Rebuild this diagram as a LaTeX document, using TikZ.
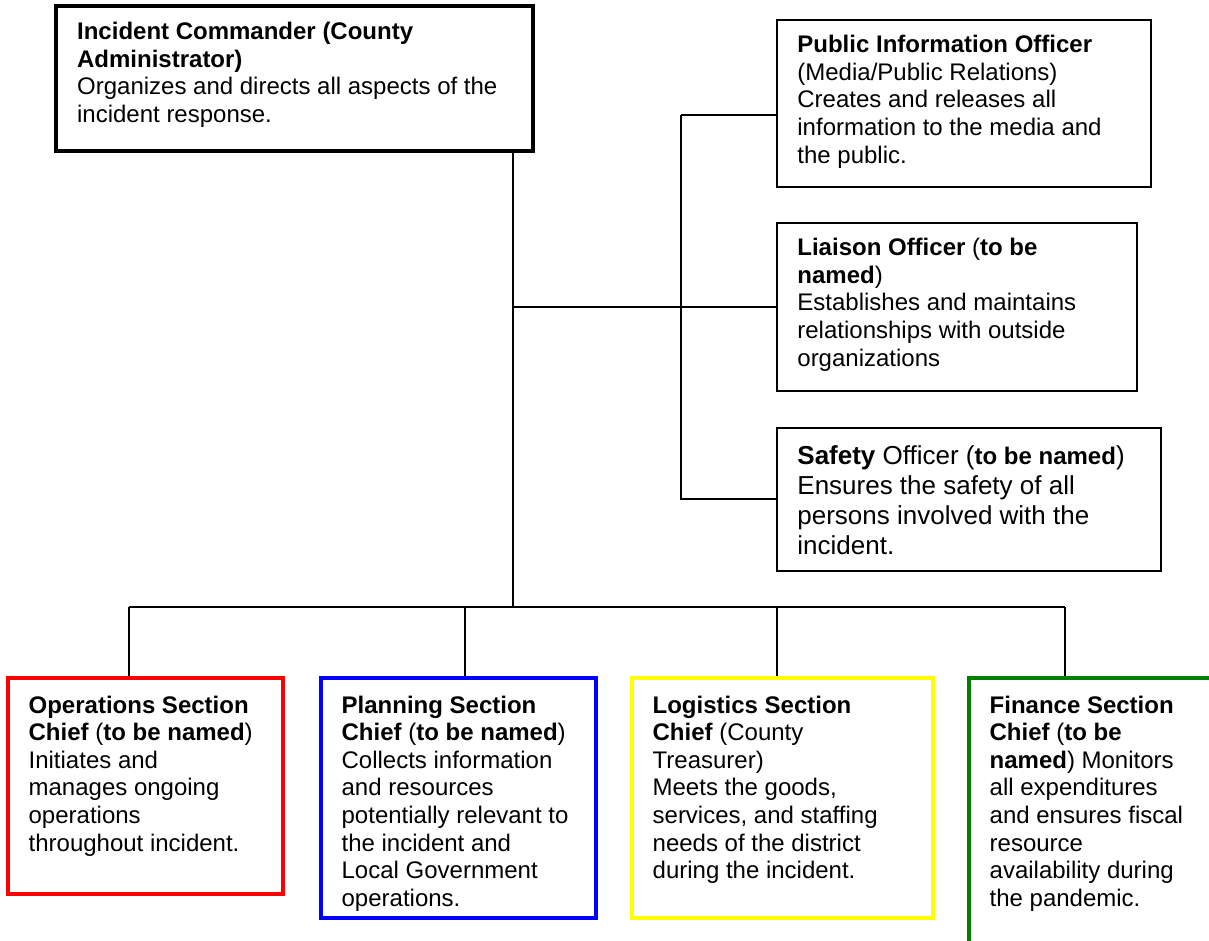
\documentclass[tikz,border=0pt]{standalone}
\usepackage{fontspec}
\setmainfont{Liberation Sans}
\usetikzlibrary{fit,calc,positioning}

\definecolor{opsred}{RGB}{255,0,0}
\definecolor{planblue}{RGB}{0,0,255}
\definecolor{logyellow}{RGB}{255,255,0}
\definecolor{fingreen}{RGB}{0,128,0}

\begin{document}
\begin{tikzpicture}[x=0.5pt,y=-0.5pt,
  box/.style={draw,line width=1pt,inner sep=0pt},
  sect/.style={box,line width=1.75pt},
  txt/.style={anchor=north west,inner sep=0pt,align=left,font=\fontsize{12}{13.8}\selectfont},
  link/.style={line width=1pt}]

  \useasboundingbox (0,0) rectangle (1209,941);
  \clip (0,0) rectangle (1209,941);

  % command
  \node[box,line width=2.25pt,fit={(56,6) (533,151)}] (ic) {};
  \node[txt] (ic-t) at ($(ic.north west)+(23,18)$) {\textbf{Incident Commander (County}\\\textbf{Administrator)}\\Organizes and directs all aspects of the\\incident response.};

  % command staff
  \node[box,fit={(777,20) (1151,187)}] (pio) {};
  \node[txt] (pio-t) at ($(pio.north west)+(21,16)$) {\textbf{Public Information Officer}\\(Media/Public Relations)\\Creates and releases all\\information to the media and\\the public.};

  \node[box,fit={(777,223) (1137,391)}] (lo) {};
  \node[txt] (lo-t) at ($(lo.north west)+(21,16)$) {\textbf{Liaison Officer} (\textbf{to be}\\\textbf{named})\\Establishes and maintains\\relationships with outside\\organizations};

  \node[box,fit={(777,428) (1161,571)}] (so) {};
  \node[txt,font=\fontsize{13}{15}\selectfont] (so-t) at ($(so.north west)+(21,18)$) {\textbf{Safety} Officer (\textbf{\fontsize{12}{15}\selectfont to be named})\\Ensures the safety of all\\persons involved with the\\incident.};

  % general staff
  \node[sect,draw=opsred,fit={(8,678) (283,894)}] (ops) {};
  \node[txt] (ops-t) at ($(ops.north west)+(22,19)$) {\textbf{Operations Section}\\\textbf{Chief} (\textbf{to be named})\\Initiates and\\manages ongoing\\operations\\throughout incident.};

  \node[sect,draw=planblue,fit={(321,678) (596,918)}] (plan) {};
  \node[txt] (plan-t) at ($(plan.north west)+(22,19)$) {\textbf{Planning Section}\\\textbf{Chief} (\textbf{to be named})\\Collects information\\and resources\\potentially relevant to\\the incident and\\Local Government\\operations.};

  \node[sect,draw=logyellow,fit={(632,678) (933,918)}] (lg) {};
  \node[txt] (lg-t) at ($(lg.north west)+(22,19)$) {\textbf{Logistics Section}\\\textbf{Chief} (County\\Treasurer)\\Meets the goods,\\services, and staffing\\needs of the district\\during the incident.};

  \node[sect,draw=fingreen,fit={(969,678) (1230,960)}] (fin) {};
  \node[txt] (fin-t) at ($(fin.north west)+(22,19)$) {\textbf{Finance Section}\\\textbf{Chief} (\textbf{to be}\\\textbf{named}) Monitors\\all expenditures\\and ensures fiscal\\resource\\availability during\\the pandemic.};

  % connectors
  \coordinate (hub) at (513,607);
  \coordinate (mid) at (513,307);
  \coordinate (st) at (681,115);
  \coordinate (sb) at (681,499);
  \coordinate (d-ops) at (129,607);
  \coordinate (d-plan) at (465,607);
  \coordinate (d-lg) at (777,607);
  \coordinate (d-fin) at (1065,607);

  \draw[link] (ic.south -| hub) -- (hub);
  \draw[link] (mid) -- (lo.west |- mid);
  \draw[link] (st) -- (pio.west |- st);
  \draw[link] (st) -- (sb) -- (so.west |- sb);
  \draw[link] (d-ops) -- (d-fin);
  \foreach \d/\b in {d-ops/ops,d-plan/plan,d-lg/lg,d-fin/fin}
    \draw[link] (\d) -- (\d |- \b.north);
\end{tikzpicture}
\end{document}
